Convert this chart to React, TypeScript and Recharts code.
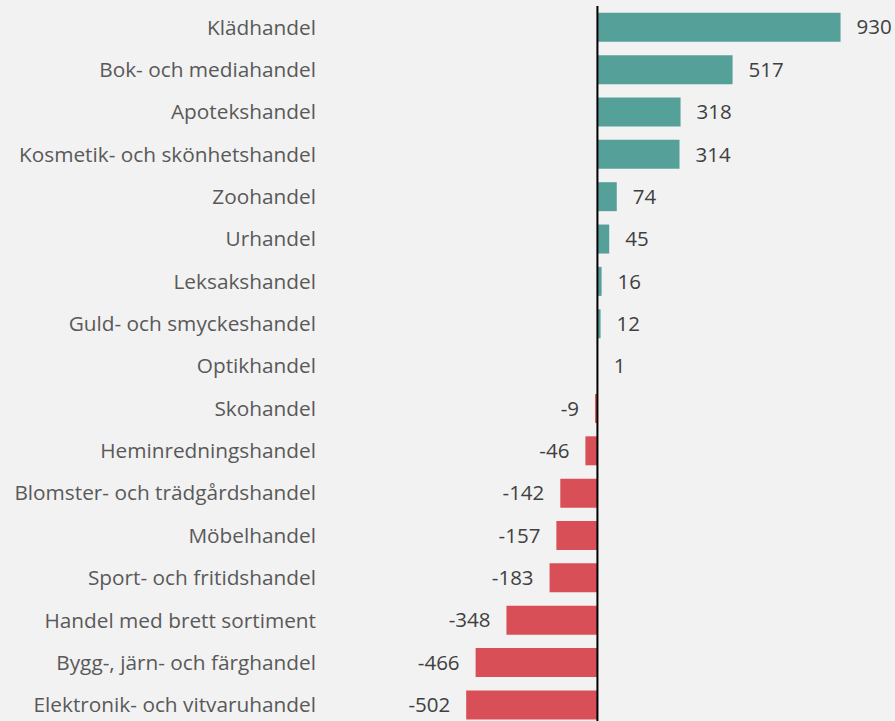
import { BarChart, Bar, Cell, LabelList, ReferenceLine, XAxis, YAxis } from 'recharts'

const categories = [
  'Klädhandel',
  'Bok- och mediahandel',
  'Apotekshandel',
  'Kosmetik- och skönhetshandel',
  'Zoohandel',
  'Urhandel',
  'Leksakshandel',
  'Guld- och smyckeshandel',
  'Optikhandel',
  'Skohandel',
  'Heminredningshandel',
  'Blomster- och trädgårdshandel',
  'Möbelhandel',
  'Sport- och fritidshandel',
  'Handel med brett sortiment',
  'Bygg-, järn- och färghandel',
  'Elektronik- och vitvaruhandel',
]
const values = [930, 517, 318, 314, 74, 45, 16, 12, 1, -9, -46, -142, -157, -183, -348, -466, -502]

const POS_COLOR = '#56a09a'
const NEG_COLOR = '#d94f57'
const FONT = '"Open Sans", sans-serif'

const data = categories.map((name, i) => ({ name, value: values[i] }))

function ValueLabel(props: any) {
  const { x, y, width, height, value } = props
  const left = Math.min(x, x + width)
  const right = Math.max(x, x + width)
  const cy = y + height / 2
  const neg = value < 0
  return (
    <text
      x={neg ? left - 16 : right + 16}
      y={cy}
      dy="0.35em"
      textAnchor={neg ? 'end' : 'start'}
      fontFamily={FONT}
      fontSize={20.5}
      fill="#404040"
    >
      {value}
    </text>
  )
}

export default function App() {
  return (
    <div style={{ position: 'fixed', left: 0, top: 0, width: 895, height: 721, background: '#f2f2f2', overflow: 'hidden' }}>
      <BarChart
        width={895}
        height={726}
        data={data}
        layout="vertical"
        barCategoryGap="16%"
        margin={{ top: 6, right: 10, bottom: 0, left: 0 }}
      >
        <XAxis type="number" domain={[-1000, 1100]} hide />
        <YAxis
          type="category"
          dataKey="name"
          width={336}
          axisLine={false}
          tickLine={false}
          tickSize={0}
          tickMargin={20}
          interval={0}
          tick={{ fontFamily: FONT, fontSize: 20.8, fill: '#595959' }}
        />
        <Bar dataKey="value" isAnimationActive={false}>
          {data.map((d) => (
            <Cell key={d.name} fill={d.value < 0 ? NEG_COLOR : POS_COLOR} />
          ))}
          <LabelList dataKey="value" content={ValueLabel} />
        </Bar>
        <ReferenceLine x={0} stroke="#000000" strokeWidth={2} ifOverflow="visible" />
      </BarChart>
    </div>
  )
}
